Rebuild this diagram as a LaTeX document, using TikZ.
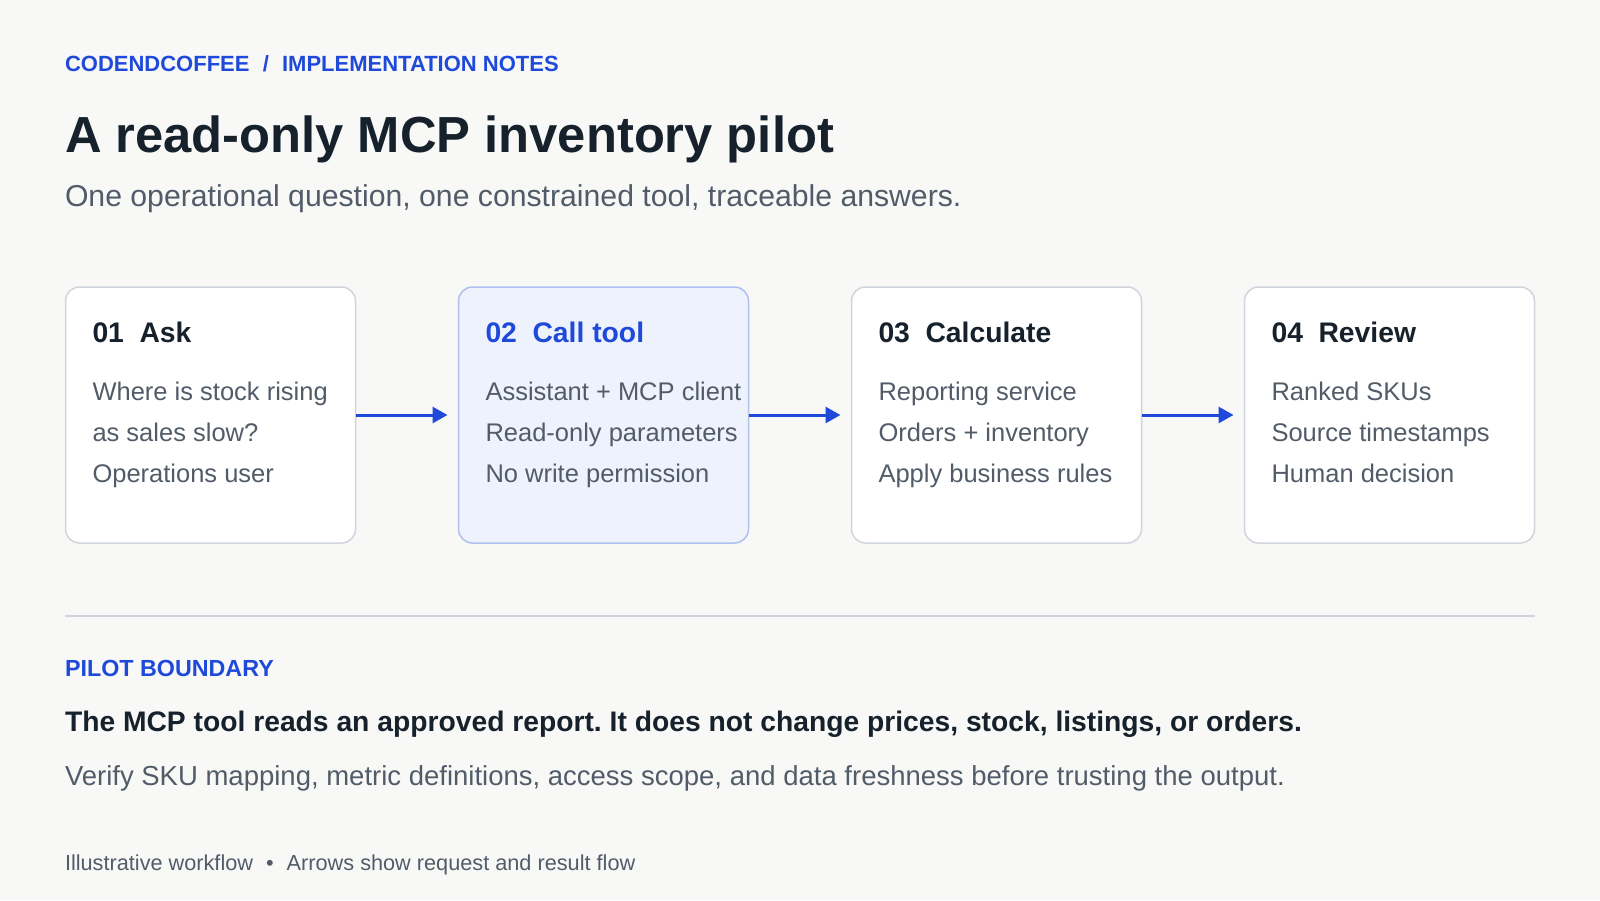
\documentclass[tikz,border=0pt]{standalone}
\usepackage{fontspec}
\setmainfont{Liberation Sans}
\usetikzlibrary{arrows.meta}
\definecolor{bg}{HTML}{F8F8F7}
\definecolor{brand}{HTML}{1F4AD9}
\definecolor{ink}{HTML}{17212B}
\definecolor{muted}{HTML}{525C69}
\definecolor{cardline}{HTML}{D0D5DD}
\definecolor{hifill}{HTML}{EEF2FD}
\definecolor{hiline}{HTML}{AFC0EE}
\newcommand{\fs}[1]{\fontsize{#1}{#1}\selectfont}
\frenchspacing
\tikzset{
  txt/.style={anchor=base west, inner sep=0pt, outer sep=0pt},
  card/.style={draw=cardline, fill=white, line width=1.5pt, rounded corners=14pt,
    minimum width=290pt, minimum height=256pt, anchor=north west, inner sep=0pt, outer sep=0pt},
  hicard/.style={card, draw=hiline, fill=hifill},
  cardtitle/.style={txt, font=\fs{28.3}\bfseries, text=ink},
  cardbody/.style={txt, font=\fs{25.5}, text=muted},
  flow/.style={draw=brand, line width=3pt, -{Triangle[length=15pt,width=16pt]}, shorten >=11pt}
}
\begin{document}
\begin{tikzpicture}[x=1pt,y=-1pt]
\useasboundingbox (0,0) rectangle (1600,900);
\fill[bg] (0,0) rectangle (1600,900);

% header
\node[txt, font=\fs{22}\bfseries, text=brand] (kicker) at (65,71) {CODENDCOFFEE\hspace{0.6em}/\hspace{0.6em}IMPLEMENTATION NOTES};
\node[txt, font=\fs{50.7}\bfseries, text=ink] (title) at (65,152) {A read-only MCP inventory pilot};
\node[txt, font=\fs{30.2}, text=muted] (subtitle) at (65,206) {One operational question, one constrained tool, traceable answers.};

% cards
\node[card] (c1) at (65.5,287) {};
\node[hicard] (c2) at (458.5,287) {};
\node[card] (c3) at (851.5,287) {};
\node[card] (c4) at (1244.5,287) {};

\node[cardtitle] (t1) at (92.5,342) {01\hspace{0.55em}Ask};
\node[cardbody] (b1a) at (92.5,400) {Where is stock rising};
\node[cardbody] (b1b) at (92.5,441) {as sales slow?};
\node[cardbody] (b1c) at (92.5,482) {Operations user};

\node[cardtitle, text=brand] (t2) at (485.5,342) {02\hspace{0.55em}Call tool};
\node[cardbody] (b2a) at (485.5,400) {Assistant + MCP client};
\node[cardbody] (b2b) at (485.5,441) {Read-only parameters};
\node[cardbody] (b2c) at (485.5,482) {No write permission};

\node[cardtitle] (t3) at (878.5,342) {03\hspace{0.55em}Calculate};
\node[cardbody] (b3a) at (878.5,400) {Reporting service};
\node[cardbody] (b3b) at (878.5,441) {Orders + inventory};
\node[cardbody] (b3c) at (878.5,482) {Apply business rules};

\node[cardtitle] (t4) at (1271.5,342) {04\hspace{0.55em}Review};
\node[cardbody] (b4a) at (1271.5,400) {Ranked SKUs};
\node[cardbody] (b4b) at (1271.5,441) {Source timestamps};
\node[cardbody] (b4c) at (1271.5,482) {Human decision};

% arrows
\draw[flow] (c1.east) -- (c2.west);
\draw[flow] (c2.east) -- (c3.west);
\draw[flow] (c3.east) -- (c4.west);

% divider
\coordinate (dl) at (65,616);
\coordinate (dr) at (1535,616);
\draw[cardline, line width=2pt] (dl) -- (dr);

% boundary
\node[txt, font=\fs{23.3}\bfseries, text=brand] (bhead) at (65,676) {PILOT BOUNDARY};
\node[txt, font=\fs{28.25}\bfseries, text=ink] (bstate) at (65,731) {The MCP tool reads an approved report. It does not change prices, stock, listings, or orders.};
\node[txt, font=\fs{27.5}, text=muted] (bverify) at (65,785) {Verify SKU mapping, metric definitions, access scope, and data freshness before trusting the output.};

% footer
\node[txt, font=\fs{21.7}, text=muted] (foot) at (65,870) {Illustrative workflow\hspace{0.6em}•\hspace{0.6em}Arrows show request and result flow};
\end{tikzpicture}
\end{document}
